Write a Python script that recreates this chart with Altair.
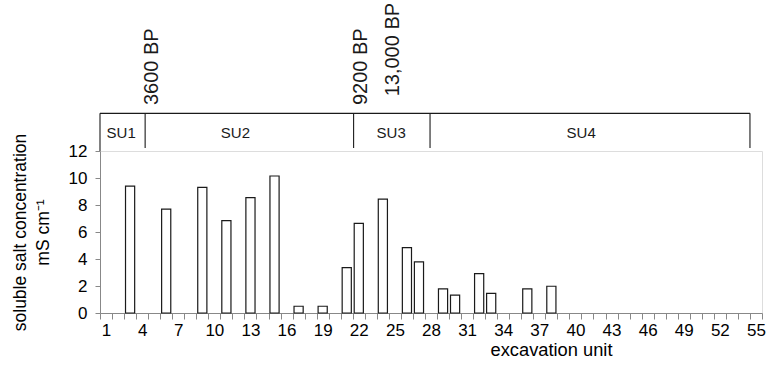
import altair as alt
import pandas as pd

# ---- data ----
units_all = list(range(1, 56))
bar_units = [3, 6, 9, 11, 13, 15, 17, 19, 21, 22, 24, 26, 27, 29, 30, 32, 33, 36, 38]
bar_values = [9.4, 7.7, 9.3, 6.85, 8.55, 10.15, 0.5, 0.5, 3.36, 6.64, 8.44,
              4.84, 3.78, 1.78, 1.33, 2.92, 1.46, 1.78, 1.98]
y_ticks = [0, 2, 4, 6, 8, 10, 12]

su_edges = [0.5, 4.25, 21.57, 27.92, 54.5]
su_labels = ["SU1", "SU2", "SU3", "SU4"]
su_label_pos = [2.26, 11.75, 24.69, 40.48]

bp_labels = ["3600 BP", "9200 BP", "13,000 BP"]
bp_pos = [4.84, 22.21, 24.82]
bp_base = [15.4, 15.4, 16.05]

bracket_level = 14.79
tick_bottom = [12.0, 12.22, 12.22, 12.22, 12.22]
su_label_level = 13.33

FONT = "Liberation Sans"
INK = "#1a1a1a"

bars_df = pd.DataFrame({"unit": bar_units, "value": bar_values})
edges_df = pd.DataFrame({"x": su_edges, "y0": tick_bottom, "y1": [bracket_level] * len(su_edges)})
top_df = pd.DataFrame({"x": [su_edges[0]], "x2": [su_edges[-1]], "y": [bracket_level]})
sul_df = pd.DataFrame({"x": su_label_pos, "y": [su_label_level] * 4, "t": su_labels})
bp_df = pd.DataFrame({"x": bp_pos, "y": bp_base, "t": bp_labels})

yscale = alt.Scale(domain=[0, 12], nice=False, zero=True)
qx = alt.Scale(domain=[0.5, 55.5], nice=False, zero=False)

bars = alt.Chart(bars_df).mark_bar(
    fill="white", stroke=INK, strokeWidth=1.2, width=alt.RelativeBandSize(0.76)
).encode(
    x=alt.X("unit:O", scale=alt.Scale(domain=units_all, paddingInner=0, paddingOuter=0),
            axis=alt.Axis(title="excavation unit", tickBand="extent", labelAngle=0,
                          labelExpr="(datum.value - 1) % 3 === 0 ? datum.label : ''",
                          labelOverlap=False, tickSize=6, labelPadding=3,
                          labelFontSize=17, titleFontSize=18.3, titlePadding=3,
                          titleX=451, titleAlign="center",
                          titleFontWeight="normal")),
    y=alt.Y("value:Q", scale=yscale,
            axis=alt.Axis(title=["soluble salt concentration", "mS cm\u207b\u00b9"],
                          values=y_ticks, tickSize=5, labelPadding=8,
                          labelOverlap=False, labelFontSize=17, titleFontSize=17.5,
                          titleFontWeight="normal", orient="left",
                          titlePadding=16, titleLineHeight=23, grid=False)),
)

verts = alt.Chart(edges_df).mark_rule(color=INK, strokeWidth=1.1).encode(
    x=alt.X("x:Q", scale=qx, axis=None),
    y=alt.Y("y0:Q", scale=yscale, axis=None),
    y2="y1:Q",
)
top = alt.Chart(top_df).mark_rule(color=INK, strokeWidth=1.1).encode(
    x=alt.X("x:Q", scale=qx, axis=None),
    x2="x2:Q",
    y=alt.Y("y:Q", scale=yscale, axis=None),
)
sul = alt.Chart(sul_df).mark_text(font=FONT, fontSize=15, color=INK).encode(
    x=alt.X("x:Q", scale=qx, axis=None),
    y=alt.Y("y:Q", scale=yscale, axis=None),
    text="t:N",
)
bp = alt.Chart(bp_df).mark_text(font=FONT, fontSize=20, color=INK, angle=270,
                                align="left", baseline="middle").encode(
    x=alt.X("x:Q", scale=qx, axis=None),
    y=alt.Y("y:Q", scale=yscale, axis=None),
    text="t:N",
)

annot = alt.layer(verts, top, sul, bp)

chart = alt.layer(bars, annot).resolve_scale(x="independent").resolve_axis(
    y="independent"
).properties(
    width=662, height=162,
    autosize=alt.AutoSizeParams(type="none"),
    padding={"left": 100, "top": 151, "right": 4, "bottom": 56},
).configure_view(stroke=None).configure_axis(
    domainColor=INK, tickColor=INK, labelColor=INK, titleColor=INK,
    labelFont=FONT, titleFont=FONT, domainWidth=1.1, tickWidth=1.1,
).configure(background="white")

chart.save("out.html", embed_options={"renderer": "svg", "actions": False})
